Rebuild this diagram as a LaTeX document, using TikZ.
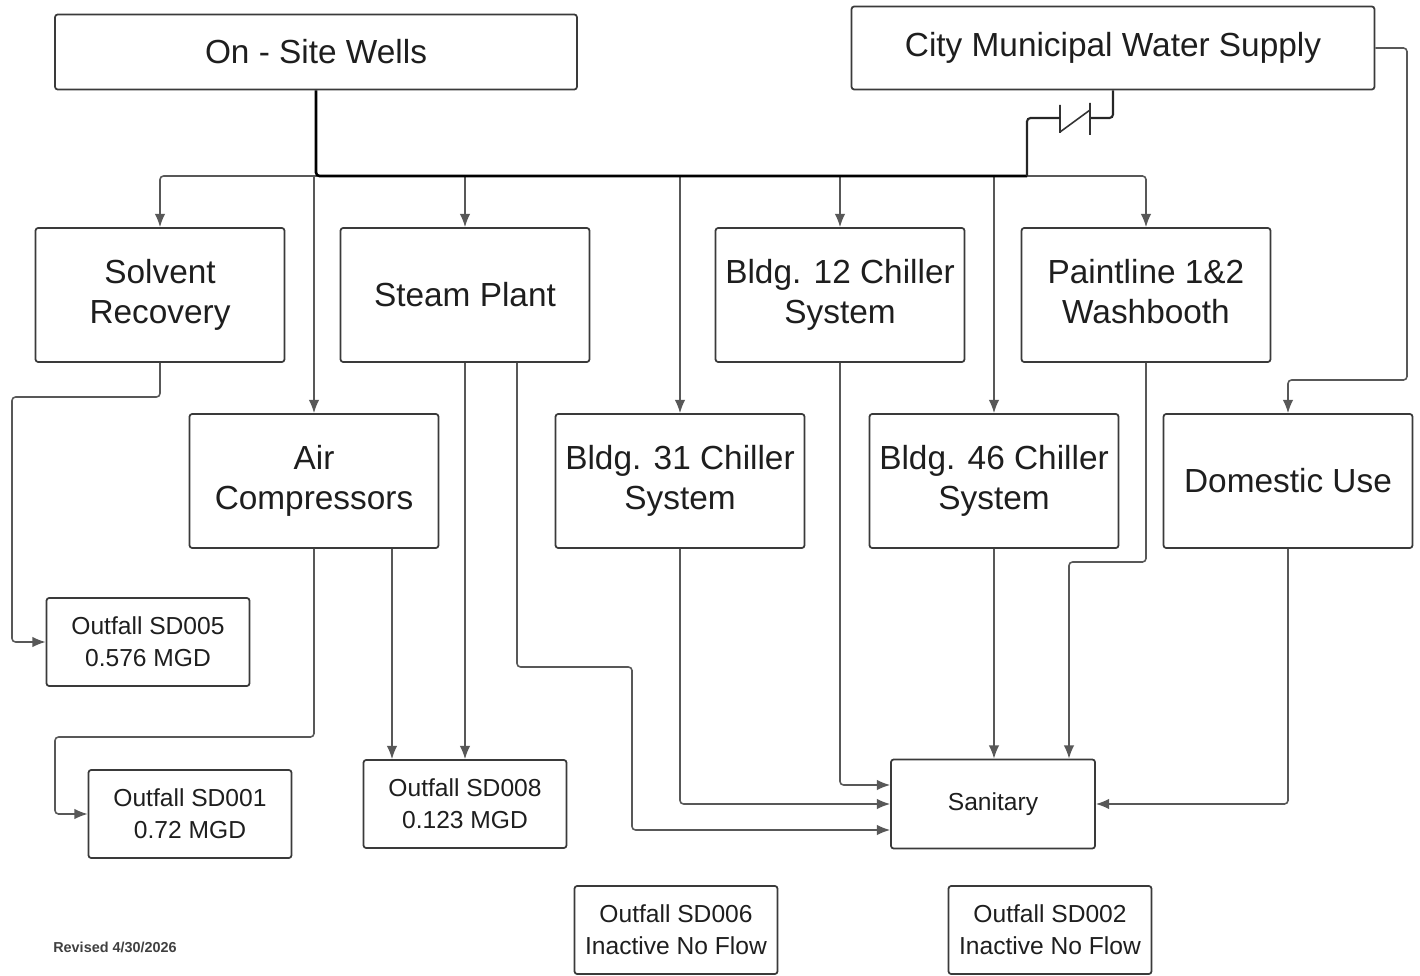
\documentclass[tikz,border=0pt]{standalone}
\usepackage{fontspec}
\setmainfont{Liberation Sans}
\usepackage{tikz}
\usetikzlibrary{arrows.meta}

\begin{document}
\begin{tikzpicture}[x=0.02cm, y=-0.02cm]
  \definecolor{linegray}{HTML}{585858}
  \definecolor{boxgray}{HTML}{3A3A3A}
  \definecolor{textgray}{HTML}{1E1E1E}
  \tikzset{
    unit/.style={draw=boxgray, line width=1pt, rounded corners=1.5pt, text=textgray, align=center, inner sep=0pt,
      font=\fontsize{19}{22.7}\selectfont, minimum width=4.98cm, minimum height=2.68cm},
    source/.style={unit, minimum height=1.5cm},
    outfall/.style={unit, font=\fontsize{14}{18}\selectfont, minimum width=4.06cm, minimum height=1.76cm},
    pipe/.style={draw=linegray, line width=0.9pt, rounded corners=2pt},
    flow/.style={pipe, -{Latex[length=7.5pt, width=6pt]}},
    trunk/.style={draw=black, line width=1.5pt, rounded corners=2pt},
  }

  \useasboundingbox (0,0) rectangle (1420,976);

  % water sources
  \node[source, minimum width=10.44cm] (wells) at (316,52) {On - Site Wells};
  \node[source, minimum width=10.46cm, minimum height=1.66cm] (city) at (1113,48) {City Municipal Water Supply};

  % users
  \node[unit] (solvent) at (160,295) {Solvent\\Recovery};
  \node[unit] (steam) at (465,295) {Steam Plant};
  \node[unit] (bldg12) at (840,295) {Bldg. 12 Chiller\\System};
  \node[unit] (paint) at (1146,295) {Paintline 1\&2\\Washbooth\vphantom{y}};
  \node[unit] (aircomp) at (314,481) {Air\\Compressors};
  \node[unit] (bldg31) at (680,481) {Bldg. 31 Chiller\\System};
  \node[unit] (bldg46) at (994,481) {Bldg. 46 Chiller\\System};
  \node[unit] (domestic) at (1288,481) {Domestic Use};

  % discharges
  \node[outfall] (sd005) at (148,642) {Outfall SD005\\0.576 MGD};
  \node[outfall] (sd001) at (190,814) {Outfall SD001\\0.72 MGD};
  \node[outfall] (sd008) at (465,804) {Outfall SD008\\0.123 MGD};
  \node[outfall, minimum width=4.08cm, minimum height=1.78cm] (sanitary) at (993,804) {Sanitary};
  \node[outfall] (sd006) at (676,930) {Outfall SD006\\Inactive No Flow};
  \node[outfall] (sd002) at (1050,930) {Outfall SD002\\Inactive No Flow};

  \node[font=\bfseries\fontsize{8.2}{10}\selectfont, text=textgray!85] (revised) at (115,947) {Revised 4/30/2026};

  % well water header
  \coordinate (hdr) at (316,176);
  \coordinate (cityjoin) at (1027,176);
  \draw[flow] (hdr) -| (solvent.north);
  \draw[flow] (hdr) -| (paint.north);
  \draw[flow] (hdr -| aircomp.north) -- (aircomp.north);
  \draw[flow] (hdr -| steam.north) -- (steam.north);
  \draw[flow] (hdr -| bldg31.north) -- (bldg31.north);
  \draw[flow] (hdr -| bldg12.north) -- (bldg12.north);
  \draw[flow] (hdr -| bldg46.north) -- (bldg46.north);
  \draw[trunk] (wells.south) |- (cityjoin);

  % city tie-in with check valve
  \draw[pipe, line width=1.2pt, draw=black!85] (city.south) |- (1090,118);
  \draw[draw=black!80, line width=0.9pt] (1090,103) -- (1090,135) (1060,105) -- (1060,133) (1090,110) -- (1060,132);
  \draw[pipe, line width=1.2pt, draw=black!85] (1060,118) -| (cityjoin);
  \draw[flow] (city.east) -| (1407,380) -| (domestic.north);

  % discharge lines
  \draw[flow] (solvent.south) |- (12,397) |- (sd005.west);
  \draw[flow] (aircomp.south) |- (55,737) |- (sd001.west);
  \draw[flow] (aircomp.south) ++(78,0) coordinate (acout) -- (acout |- sd008.north);
  \draw[flow] (steam.south) -- (sd008.north);
  \draw[flow] (steam.south) ++(52,0) |- (632,667) |- (sanitary.west |- 0,830);
  \draw[flow] (bldg31.south) |- (sanitary.west);
  \draw[flow] (bldg12.south) |- (sanitary.west |- 0,785);
  \draw[flow] (bldg46.south) -- (bldg46.south |- sanitary.north);
  \draw[flow] (paint.south) |- (1069,562) -- (sanitary.north -| 1069,0);
  \draw[flow] (domestic.south) |- (sanitary.east);
\end{tikzpicture}
\end{document}
